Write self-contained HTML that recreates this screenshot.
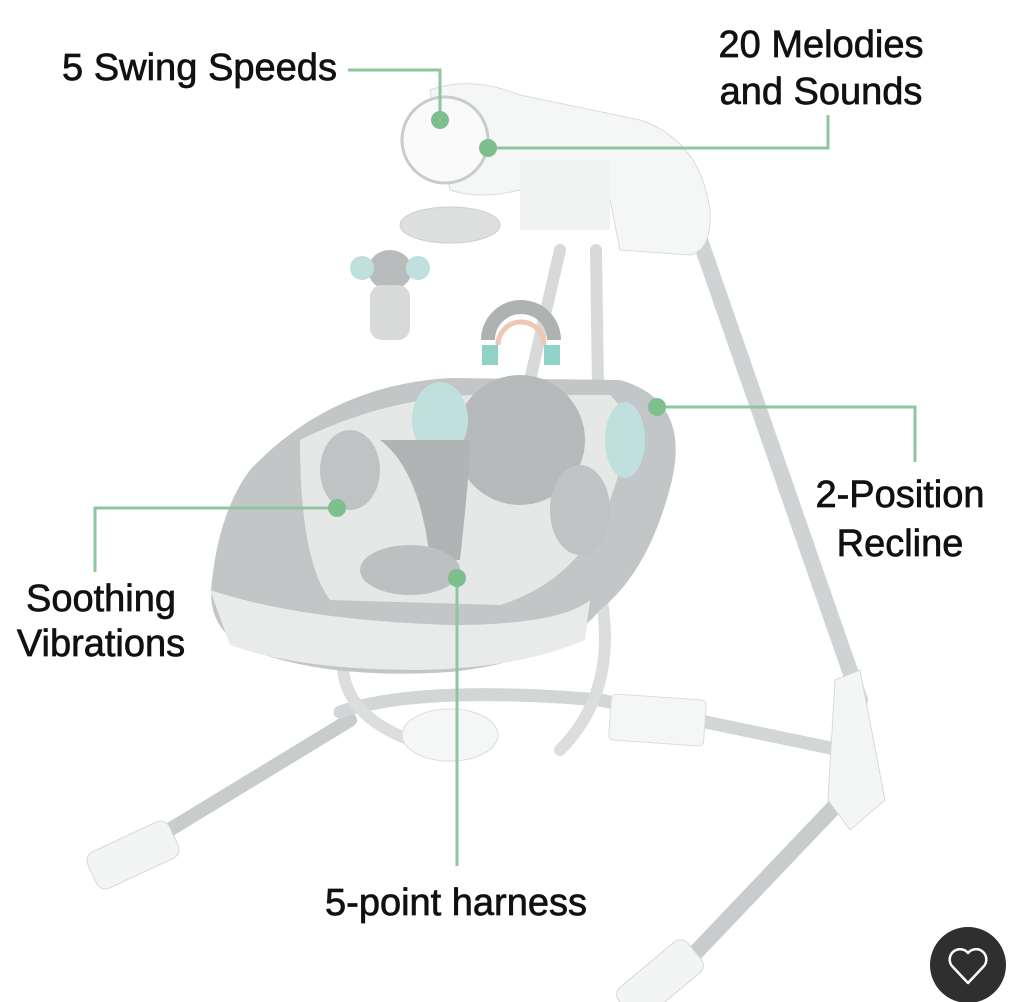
<!DOCTYPE html>
<html><head><meta charset="utf-8"><style>
html,body{margin:0;padding:0;background:#fff;width:1020px;height:1002px;overflow:hidden}
svg{display:block}
text{font-family:"Liberation Sans","DejaVu Sans",sans-serif;font-size:38px;fill:#111;stroke:#111;stroke-width:0.7}
</style></head><body>
<svg width="1020" height="1002" viewBox="0 0 1020 1002">
<g stroke-linecap="round" fill="none">
<path d="M700 240 L860 700" stroke="#cfd3d3" stroke-width="16"/>
<path d="M860 780 L660 990" stroke="#c8cccc" stroke-width="16"/>
<path d="M120 860 L350 720" stroke="#c8cccc" stroke-width="14"/>
<path d="M340 712 Q420 685 600 700 L840 750" stroke="#d3d6d6" stroke-width="13"/>
<path d="M560 250 L530 380" stroke="#d8dada" stroke-width="12"/>
<path d="M596 250 L598 390" stroke="#d8dada" stroke-width="12"/>
<path d="M345 640 Q330 710 410 740" stroke="#dcdede" stroke-width="12"/>
<path d="M600 590 Q620 690 560 750" stroke="#dcdede" stroke-width="12"/>
</g>
<path d="M835 680 L860 670 L885 800 L850 830 L828 800 Z" fill="#f4f5f5" stroke="#d8dada"/>
<rect x="610" y="697" width="95" height="46" rx="5" fill="#f5f6f6" stroke="#dcdede" transform="rotate(4 657 720)"/>
<ellipse cx="450" cy="735" rx="48" ry="26" fill="#f5f6f6" stroke="#dcdede"/>
<rect x="88" y="835" width="90" height="40" rx="10" fill="#f3f4f4" stroke="#d6d8d8" transform="rotate(-25 133 855)"/>
<rect x="615" y="960" width="90" height="40" rx="10" fill="#f3f4f4" stroke="#d6d8d8" transform="rotate(-40 660 980)"/>
<path d="M430 90 Q470 75 520 95 L640 120 Q700 140 710 210 Q712 250 690 255 L620 250 L610 200 L520 190 Q480 200 450 190 Z" fill="#f5f6f6" stroke="#dadcdc"/>
<circle cx="445" cy="140" r="43" fill="#fafafa" stroke="#c9cccc" stroke-width="3"/>
<ellipse cx="450" cy="225" rx="50" ry="18" fill="#dedfdf" stroke="#cfd1d1"/>
<rect x="520" y="160" width="90" height="70" fill="#f1f2f2"/>
<ellipse cx="390" cy="270" rx="22" ry="20" fill="#b8bcbc"/>
<circle cx="362" cy="268" r="12" fill="#bfe0dc"/><circle cx="418" cy="268" r="12" fill="#bfe0dc"/>
<rect x="370" y="285" width="40" height="55" rx="12" fill="#d8dada"/>
<path d="M488 340 A33 33 0 0 1 554 340" stroke="#aeb2b2" stroke-width="14" fill="none"/>
<path d="M498 345 A23 23 0 0 1 544 345" stroke="#f0c7b4" stroke-width="5" fill="none"/>
<rect x="482" y="345" width="16" height="20" fill="#8ed2c8"/><rect x="544" y="345" width="16" height="20" fill="#8ed2c8"/>
<path d="M250 470 Q330 385 450 378 L620 380 Q690 400 672 480 Q650 570 600 610 Q560 660 450 672 Q330 680 250 650 Q205 630 212 580 Q220 510 250 470 Z" fill="#c3c6c6"/>
<path d="M210 590 Q300 620 450 625 Q560 625 590 600 L585 640 Q520 668 420 670 Q300 670 230 645 Z" fill="#e9ebeb"/>
<path d="M300 440 Q380 400 470 395 L610 395 Q640 420 610 500 Q580 580 500 605 L330 600 Q300 560 300 440 Z" fill="#e6e8e8"/>
<ellipse cx="520" cy="440" rx="65" ry="65" fill="#b6baba"/>
<ellipse cx="440" cy="420" rx="28" ry="38" fill="#bfe0dc"/>
<ellipse cx="625" cy="440" rx="20" ry="38" fill="#bfe0dc"/>
<path d="M380 440 Q420 470 430 560 L460 560 Q470 470 470 440 Z" fill="#b0b4b4"/>
<ellipse cx="350" cy="470" rx="30" ry="40" fill="#c0c3c3"/>
<ellipse cx="410" cy="570" rx="50" ry="25" fill="#bcc0c0"/>
<ellipse cx="580" cy="510" rx="30" ry="45" fill="#c0c3c3"/>
<g stroke="#8fc69b" stroke-width="3" fill="none">
<path d="M348 70 H440 V118"/>
<path d="M828 115 V148 H488"/>
<path d="M915 462 V407 H657"/>
<path d="M95 572 V508 H337"/>
<path d="M457 866 V578"/>
</g>
<g fill="#7fbf8e">
<circle cx="440" cy="120" r="9"/><circle cx="488" cy="148" r="9"/>
<circle cx="657" cy="407" r="9"/><circle cx="337" cy="508" r="9"/><circle cx="457" cy="578" r="9"/>
</g>
<text x="62" y="80" textLength="275" lengthAdjust="spacingAndGlyphs">5 Swing Speeds</text>
<text x="821" y="57" text-anchor="middle">20 Melodies</text>
<text x="821" y="104" text-anchor="middle">and Sounds</text>
<text x="900" y="507" text-anchor="middle">2-Position</text>
<text x="900" y="556" text-anchor="middle">Recline</text>
<text x="101" y="611" text-anchor="middle">Soothing</text>
<text x="101" y="656" text-anchor="middle">Vibrations</text>
<text x="456" y="915" text-anchor="middle">5-point harness</text>
<circle cx="968" cy="965" r="38" fill="#2f2f2f"/>
<path d="M968 983 L952 966 A9 9 0 0 1 968 953 A9 9 0 0 1 984 966 Z" fill="none" stroke="#fff" stroke-width="2.5" stroke-linejoin="round"/>
</svg>
</body></html>
